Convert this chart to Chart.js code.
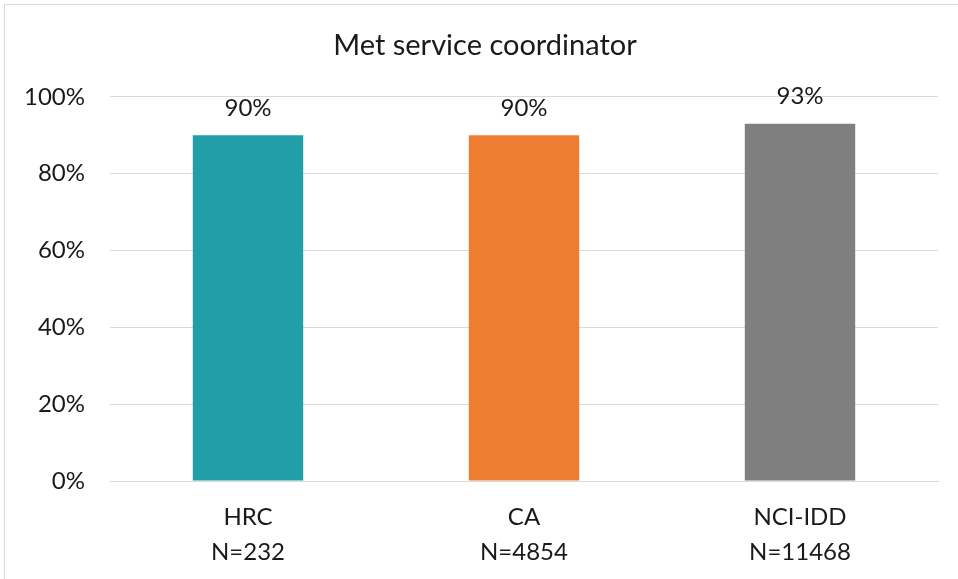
<!DOCTYPE html>
<html>
<head>
<meta charset="utf-8">
<script src="https://cdn.jsdelivr.net/npm/chart.js@4"></script>
<style>
  html, body { margin: 0; padding: 0; background: #fff; }
  #wrap { position: absolute; left: 4px; top: 4px; width: 960px; height: 580px; border: 1px solid #d9d9d9; box-sizing: border-box; }
  #holder { position: absolute; left: -5px; top: -5px; width: 958px; height: 579px; }
</style>
</head>
<body>
<div id="wrap"><div id="holder"><canvas id="met_chart" width="958" height="579"></canvas></div></div>
<script>
const categories = ["HRC", "CA", "NCI-IDD"];
const sampleSizes = ["N=232", "N=4854", "N=11468"];
const metPercent = [90, 90, 93];
const barColors = ["#219ea7", "#ed7d31", "#7f7f7f"];
const yTicks = [0, 20, 40, 60, 80, 100];

const fontFamily = "Lato, 'Open Sans', sans-serif";

// draw the % value above each bar
const valueLabels = {
  id: "valueLabels",
  afterLayout(chart) {
    // nudge the title a bit right, like the original
    chart.titleBlock.left = 32;
  },
  afterDatasetsDraw(chart) {
    const c = chart.ctx;
    const meta = chart.getDatasetMeta(0);
    c.save();
    c.font = "24px " + fontFamily;
    c.fillStyle = "#1a1a1a";
    c.textAlign = "center";
    c.textBaseline = "middle";
    meta.data.forEach((bar, i) => {
      c.fillText(metPercent[i] + "%", bar.x, bar.y - 27);
    });
    c.restore();
  },
};

let ctx = document.getElementById("met_chart");

let config = {
  type: "bar",
  data: {
    labels: categories.map((c, i) => [c, sampleSizes[i]]),
    datasets: [
      {
        label: "Met service coordinator",
        data: metPercent,
        backgroundColor: barColors,
        categoryPercentage: 1,
        barPercentage: 0.4,
      },
    ],
  },
  options: {
    responsive: false,
    animation: false,
    layout: { padding: { left: 0, right: 20, top: 0, bottom: 0 } },
    plugins: {
      legend: { display: false },
      tooltip: { enabled: false },
      title: {
        display: true,
        text: "Met service coordinator",
        color: "#1a1a1a",
        font: { family: fontFamily, size: 29, weight: "normal", lineHeight: 1.2 },
        padding: { top: 28, bottom: 34 },
      },
    },
    scales: {
      y: {
        min: 0,
        max: 100,
        afterBuildTicks(scale) {
          scale.ticks = yTicks.map((v) => ({ value: v }));
        },
        afterFit(scale) {
          scale.width = 110;
        },
        ticks: {
          callback: (v) => v + "%",
          color: "#1a1a1a",
          padding: 25,
          font: { family: fontFamily, size: 24 },
        },
        grid: { color: "#d9d9d9", lineWidth: 1, drawTicks: false },
        border: { display: false },
      },
      x: {
        afterFit(scale) {
          scale.height = 98;
        },
        ticks: {
          color: "#1a1a1a",
          padding: 11,
          font: { family: fontFamily, size: 24, lineHeight: 1.46 },
          maxRotation: 0,
        },
        grid: { display: false },
        border: { color: "#d9d9d9", width: 1 },
      },
    },
  },
  plugins: [valueLabels],
};

new Chart(ctx, config);
</script>
</body>
</html>
